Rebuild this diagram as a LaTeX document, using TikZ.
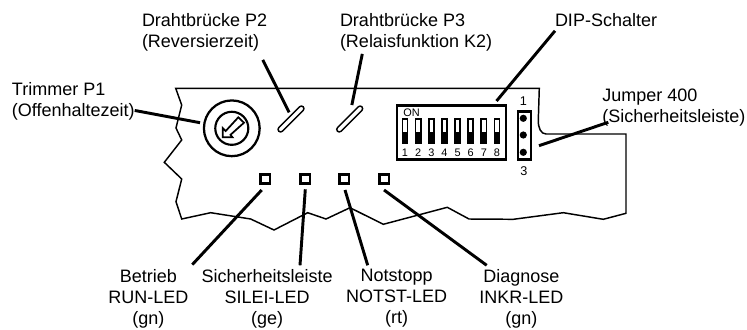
\documentclass[tikz,border=0pt]{standalone}
\usepackage{fontspec}
\setmainfont{Liberation Sans}
\usetikzlibrary{shapes.misc,positioning}
\tikzset{
  lbl/.style={inner sep=0pt,outer sep=0pt,align=center,font=\fontsize{13.5}{15.75}\selectfont},
  lblleft/.style={lbl,align=left},
  leader/.style={draw,line width=2.2pt},
  outline/.style={draw,line width=1.1pt,line join=miter},
  led/.style={draw,line width=2pt,minimum size=7.2pt,inner sep=0pt,outer sep=0pt},
  draht/.style={draw,rounded rectangle,line width=1.1pt,minimum width=25.9pt,minimum height=3.8pt,inner sep=0pt,rotate=45},
  dipbox/.style={draw,line width=2pt,minimum width=81.8pt,minimum height=40.5pt,inner sep=0pt,outer sep=0pt},
  jumperbox/.style={draw,line width=2pt,minimum width=9.75pt,minimum height=36.3pt,inner sep=0pt,outer sep=0pt},
  pin/.style={circle,fill=black,minimum size=5.4pt,inner sep=0pt},
  trimouter/.style={circle,draw,line width=1.7pt,minimum size=41.8pt,inner sep=0pt,outer sep=0pt},
  triminner/.style={circle,draw,line width=1.6pt,minimum size=24.8pt,inner sep=0pt,outer sep=0pt},
  switch/.style={fill=black,minimum width=5.2pt,minimum height=19.5pt,inner sep=0pt,outer sep=0pt,
    path picture={\fill[white] ([xshift=1.3pt,yshift=-1.1pt]path picture bounding box.north west) rectangle ([xshift=-1.3pt,yshift=9.6pt]path picture bounding box.south east);}},
  digit/.style={inner sep=0pt,font=\fontsize{8.2}{9}\selectfont},
  pinno/.style={inner sep=0pt,font=\fontsize{9.5}{11}\selectfont}
}
\begin{document}
\begin{tikzpicture}[x=0.75pt,y=-0.75pt]
\useasboundingbox (0,0) rectangle (747,329);
% board
\draw[outline] (175.7,88.3) -- (539.3,88.3) -- (538.3,120) .. controls (538,128) and (541,134) .. (546,134)
  -- (626,134) -- (626,213.3) -- (603.3,219.3) -- (563.3,212.7) -- (513.3,219.3) -- (469,219) -- (447.3,207.3)
  -- (383.3,224.3) -- (350,207.7) -- (326,219) -- (307.7,212.7) -- (274,230) -- (250.7,219) -- (210.7,212.7)
  -- (181.7,219) -- (176,201.7) -- (181.7,179) -- (164.3,162.3) -- (181.7,140) -- (176,128) -- (181.7,105) -- cycle;
% trimmer
\node[trimouter](trim) at (231.8,128.3){};
\node[triminner](trimin) at (231.8,128.3){};
\draw[line width=1.3pt,line join=miter] (222.7,137.3) -- (222.7,128) -- (225.7,131) -- (238.3,117.3) -- (244,122.7) -- (230.5,134.8) -- (232.5,137.3) -- cycle;
% wire links
\node[draht](p2) at (291,119){};
\node[draht](p3) at (349.7,119){};
% dip
\node[dipbox](dip) at (451.5,132.3){};
\node[switch](sw1) at (405,131.3){};
\node[switch,right=4.66pt of sw1](sw2){};
\node[switch,right=4.66pt of sw2](sw3){};
\node[switch,right=4.66pt of sw3](sw4){};
\node[switch,right=4.66pt of sw4](sw5){};
\node[switch,right=4.66pt of sw5](sw6){};
\node[switch,right=4.66pt of sw6](sw7){};
\node[switch,right=4.66pt of sw7](sw8){};
\node[digit,below=3pt of sw1](d1){1};
\node[digit,below=3pt of sw2](d2){2};
\node[digit,below=3pt of sw3](d3){3};
\node[digit,below=3pt of sw4](d4){4};
\node[digit,below=3pt of sw5](d5){5};
\node[digit,below=3pt of sw6](d6){6};
\node[digit,below=3pt of sw7](d7){7};
\node[digit,below=3pt of sw8](d8){8};
\node[digit,anchor=west](on) at (403,113){ON};
% jumper
\node[jumperbox](jmp) at (524.5,135.5){};
\node[pin](j1) at (523.3,118.3){};
\node[pin](j2) at (523.3,135){};
\node[pin](j3) at (523.3,152.3){};
\node[pinno](n1) at (523.3,101){1};
\node[pinno](n3) at (524,171){3};
% leds
\node[led](led1) at (265.3,179){};
\node[led,right=22.8pt of led1](led2){};
\node[led,right=22.05pt of led2](led3){};
\node[led,right=22.6pt of led3](led4){};
% labels
\node[lblleft,anchor=north west](trimlbl) at (12,82){Trimmer P1\\(Offenhaltezeit)};
\node[lblleft,anchor=north west](p2lbl) at (142,13.6){Drahtbrücke P2\\(Reversierzeit)};
\node[lblleft,anchor=north west](p3lbl) at (340,13.6){Drahtbrücke P3\\(Relaisfunktion K2)};
\node[lbl,anchor=north west](diplbl) at (555,13.6){DIP-Schalter};
\node[lblleft,anchor=north west](jmplbl) at (602.3,88.8){Jumper 400\\(Sicherheitsleiste)};
\node[lbl,anchor=north](betrieb) at (148.3,269.3){Betrieb\\RUN-LED\\(gn)};
\node[lbl,anchor=north](silei) at (267.2,269.3){Sicherheitsleiste\\SILEI-LED\\(ge)};
\node[lbl,anchor=north](notst) at (396.7,269.3){Notstopp\\NOTST-LED\\(rt)};
\node[lbl,anchor=north](inkr) at (521.3,269.3){Diagnose\\INKR-LED\\(gn)};
% leaders
\draw[leader] ([shift={(0,-9.3)}]trimlbl.south east) -- ([shift={(-3.9,-5.6)}]trim.west);
\draw[leader] ([shift={(-4.3,8.5)}]p2lbl.south east) -- ([shift={(0.45,-4.35)}]p2.north);
\draw[leader] ([shift={(22.3,2.5)}]p3lbl.south west) -- ([shift={(4.45,-11.65)}]p3.north);
\draw[leader] ([shift={(0,4)}]diplbl.south west) -- ([shift={(-9.5,-4.3)}]dip.north east);
\draw[leader] ([shift={(6,-3.8)}]jmplbl.south west) -- ([shift={(8,10.2)}]jmp.east);
\draw[leader] ([shift={(-3.6,6.2)}]led1.south) -- ([shift={(4,-4.7)}]betrieb.north east);
\draw[leader] ([shift={(0,5.5)}]led2.south) -- ([shift={(32.8,-4)}]silei.north);
\draw[leader] ([shift={(0.7,6.2)}]led3.south) -- ([shift={(-29,-4)}]notst.north);
\draw[leader] ([shift={(0,6.2)}]led4.south) -- ([shift={(7.4,-4)}]inkr.north west);
\end{tikzpicture}
\end{document}
